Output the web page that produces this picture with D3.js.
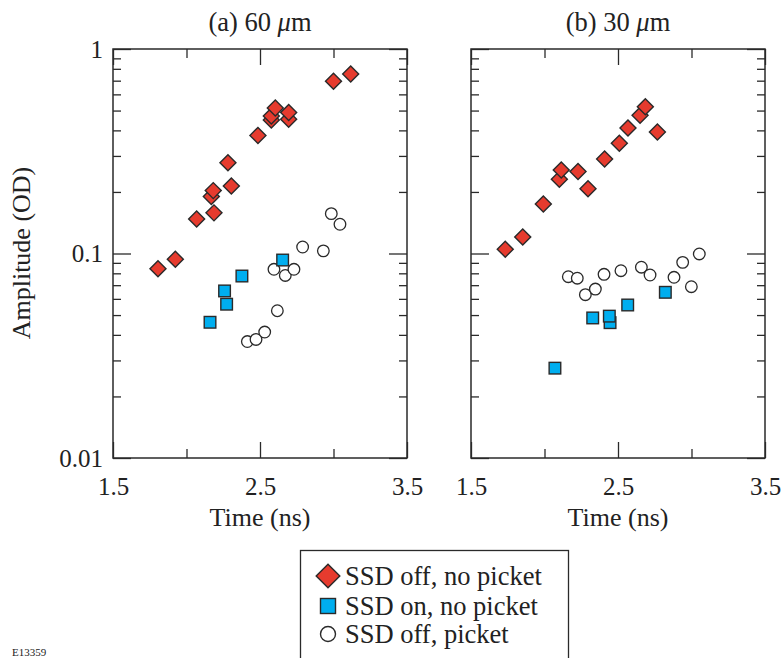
<!DOCTYPE html>
<html>
<head>
<meta charset="utf-8">
<script src="https://cdn.jsdelivr.net/npm/d3@7"></script>
<style>
  body { margin: 0; background: #fff; }
  svg text { font-family: 'Liberation Serif', 'Times New Roman', 'DejaVu Serif', serif; fill: #222; }
</style>
</head>
<body>
<div id="chart"></div>
<script>
// [time (ns), amplitude (OD)]
let offNoPicket60 = [
  [1.806, 0.0843], [1.924, 0.0937], [2.069, 0.1475], [2.187, 0.158],
  [2.169, 0.19], [2.182, 0.203], [2.305, 0.214], [2.282, 0.278],
  [2.486, 0.378], [2.577, 0.45], [2.577, 0.47], [2.604, 0.515],
  [2.695, 0.453], [2.695, 0.489], [3.0, 0.695], [3.117, 0.755]
]
let onNoPicket60 = [
  [2.16, 0.0461], [2.273, 0.0565], [2.259, 0.0656], [2.377, 0.0776], [2.654, 0.0929]
]
let offPicket60 = [
  [2.414, 0.0371], [2.473, 0.038], [2.532, 0.0413], [2.618, 0.0525],
  [2.595, 0.0837], [2.672, 0.0781], [2.731, 0.0837], [2.79, 0.1076],
  [2.931, 0.103], [2.985, 0.1566], [3.044, 0.139]
]

let offNoPicket30 = [
  [1.733, 0.105], [1.852, 0.1205], [1.992, 0.1746], [2.101, 0.2306],
  [2.114, 0.256], [2.228, 0.252], [2.296, 0.2074], [2.409, 0.29],
  [2.509, 0.346], [2.568, 0.411], [2.65, 0.474], [2.686, 0.522], [2.768, 0.393]
]
let onNoPicket30 = [
  [2.071, 0.0275], [2.328, 0.0484], [2.446, 0.0459], [2.441, 0.0494],
  [2.566, 0.056], [2.822, 0.0646]
]
let offPicket30 = [
  [2.162, 0.077], [2.223, 0.0757], [2.278, 0.0629], [2.346, 0.067],
  [2.405, 0.0791], [2.52, 0.0824], [2.659, 0.0857], [2.718, 0.0785],
  [2.881, 0.0765], [2.94, 0.0905], [2.999, 0.0688], [3.053, 0.0995]
]

let xTicksMajor = [1.5, 2.5, 3.5]
let xTicksMinor = [2, 3]
let yTicksMajor = [0.01, 0.1, 1]
let seriesNames = ['SSD off, no picket', 'SSD on, no picket', 'SSD off, picket']

let width = 784
let height = 658
let plotTop = 49
let plotBottom = 458
let plotWidth = 294

let serif = "'Liberation Serif', 'Times New Roman', 'DejaVu Serif', serif"
let red = '#e63b2e'
let blue = '#00aeef'
let dark = '#2a2a2a'

let svg = d3
  .select('#chart')
  .append('svg')
  .attr('width', width)
  .attr('height', height)
  .attr('font-family', serif)

let yScale = d3.scaleLog().domain([0.01, 1]).range([plotBottom, plotTop])

// minor log ticks 2..9 in each decade
let yTicksMinor = yScale.ticks().filter(d => yTicksMajor.indexOf(d) < 0)

let diamond = d3.symbol().type(d3.symbolSquare).size(128)

let panels = [
  { title: '(a) 60 ', left: 113, showY: true, red: offNoPicket60, blue: onNoPicket60, open: offPicket60 },
  { title: '(b) 30 ', left: 471, showY: false, red: offNoPicket30, blue: onNoPicket30, open: offPicket30 }
]

panels.forEach(p => {
  let x = d3.scaleLinear().domain([1.5, 3.5]).range([p.left, p.left + plotWidth])
  let g = svg.append('g')

  // ticks, drawn inward on all four sides
  let tickStyle = sel => {
    sel.attr('font-family', serif)
    sel.select('.domain').remove()
    sel.selectAll('.tick line').attr('stroke', dark).attr('stroke-width', 1.3)
    sel.selectAll('.tick text').attr('font-size', 25).attr('fill', '#222')
  }

  g.append('g')
    .attr('transform', `translate(0,${plotBottom})`)
    .call(d3.axisBottom(x).tickValues(xTicksMajor).tickSize(-16).tickFormat(d3.format('.1f')))
    .call(tickStyle)
    .selectAll('.tick text').attr('dy', '0.71em').attr('y', 19)
  g.append('g')
    .attr('transform', `translate(0,${plotBottom})`)
    .call(d3.axisBottom(x).tickValues(xTicksMinor).tickSize(-9).tickFormat(''))
    .call(tickStyle)
  g.append('g')
    .attr('transform', `translate(0,${plotTop})`)
    .call(d3.axisTop(x).tickValues(xTicksMajor).tickSize(-16).tickFormat(''))
    .call(tickStyle)
  g.append('g')
    .attr('transform', `translate(0,${plotTop})`)
    .call(d3.axisTop(x).tickValues(xTicksMinor).tickSize(-9).tickFormat(''))
    .call(tickStyle)

  g.append('g')
    .attr('transform', `translate(${p.left},0)`)
    .call(d3.axisLeft(yScale).tickValues(yTicksMajor).tickSize(-18)
      .tickFormat(p.showY ? d => (d === 1 ? '1' : d3.format('')(d)) : ''))
    .call(tickStyle)
    .selectAll('.tick text').attr('x', -10)
  g.append('g')
    .attr('transform', `translate(${p.left},0)`)
    .call(d3.axisLeft(yScale).tickValues(yTicksMinor).tickSize(-8).tickFormat(''))
    .call(tickStyle)
  g.append('g')
    .attr('transform', `translate(${p.left + plotWidth},0)`)
    .call(d3.axisRight(yScale).tickValues(yTicksMajor).tickSize(-18).tickFormat(''))
    .call(tickStyle)
  g.append('g')
    .attr('transform', `translate(${p.left + plotWidth},0)`)
    .call(d3.axisRight(yScale).tickValues(yTicksMinor).tickSize(-8).tickFormat(''))
    .call(tickStyle)

  // frame
  g.append('rect')
    .attr('x', p.left)
    .attr('y', plotTop)
    .attr('width', plotWidth)
    .attr('height', plotBottom - plotTop)
    .attr('fill', 'none')
    .attr('stroke', dark)
    .attr('stroke-width', 1.5)

  // title
  let t = g.append('text')
    .attr('x', p.left + plotWidth / 2)
    .attr('y', 31)
    .attr('text-anchor', 'middle')
    .attr('font-size', 26.5)
  t.append('tspan').text(p.title)
  t.append('tspan').attr('font-style', 'italic').text('μ')
  t.append('tspan').text('m')

  g.append('text')
    .attr('x', p.left + plotWidth / 2)
    .attr('y', 526)
    .attr('text-anchor', 'middle')
    .attr('font-size', 26)
    .text('Time (ns)')

  // SSD off, picket
  g.selectAll('.open')
    .data(p.open)
    .enter()
    .append('circle')
    .attr('class', 'open')
    .attr('cx', d => x(d[0]))
    .attr('cy', d => yScale(d[1]))
    .attr('r', 5.8)
    .attr('fill', '#fff')
    .attr('stroke', dark)
    .attr('stroke-width', 1.3)

  // SSD on, no picket
  g.selectAll('.sq')
    .data(p.blue)
    .enter()
    .append('rect')
    .attr('class', 'sq')
    .attr('x', d => x(d[0]) - 5.8)
    .attr('y', d => yScale(d[1]) - 5.8)
    .attr('width', 11.6)
    .attr('height', 11.6)
    .attr('fill', blue)
    .attr('stroke', dark)
    .attr('stroke-width', 1.4)

  // SSD off, no picket
  g.selectAll('.dia')
    .data(p.red)
    .enter()
    .append('path')
    .attr('class', 'dia')
    .attr('d', diamond)
    .attr('transform', d => `translate(${x(d[0])},${yScale(d[1])}) rotate(45)`)
    .attr('fill', red)
    .attr('stroke', dark)
    .attr('stroke-width', 1.4)
})

svg.append('text')
  .attr('transform', 'translate(30,253) rotate(-90)')
  .attr('text-anchor', 'middle')
  .attr('font-size', 26)
  .text('Amplitude (OD)')

// legend
let legend = svg.append('g')
legend.append('rect')
  .attr('x', 300.5)
  .attr('y', 550.5)
  .attr('width', 268)
  .attr('height', 130)
  .attr('fill', 'none')
  .attr('stroke', dark)
  .attr('stroke-width', 1.3)

let rowY = [576, 606, 634]
legend.append('path')
  .attr('d', d3.symbol().type(d3.symbolSquare).size(280))
  .attr('transform', `translate(328,${rowY[0]}) rotate(45)`)
  .attr('fill', red)
  .attr('stroke', dark)
  .attr('stroke-width', 1.4)
legend.append('rect')
  .attr('x', 320.5)
  .attr('y', rowY[1] - 7.5)
  .attr('width', 15)
  .attr('height', 15)
  .attr('fill', blue)
  .attr('stroke', dark)
  .attr('stroke-width', 1.4)
legend.append('circle')
  .attr('cx', 328)
  .attr('cy', rowY[2])
  .attr('r', 7.5)
  .attr('fill', '#fff')
  .attr('stroke', dark)
  .attr('stroke-width', 1.4)

legend.selectAll('.lbl')
  .data(seriesNames)
  .enter()
  .append('text')
  .attr('class', 'lbl')
  .attr('x', 345)
  .attr('y', (d, i) => rowY[i])
  .attr('dy', '0.35em')
  .attr('font-size', 26.5)
  .text(d => d)

svg.append('text')
  .attr('x', 12)
  .attr('y', 656)
  .attr('font-size', 11)
  .text('E13359')
</script>
</body>
</html>
